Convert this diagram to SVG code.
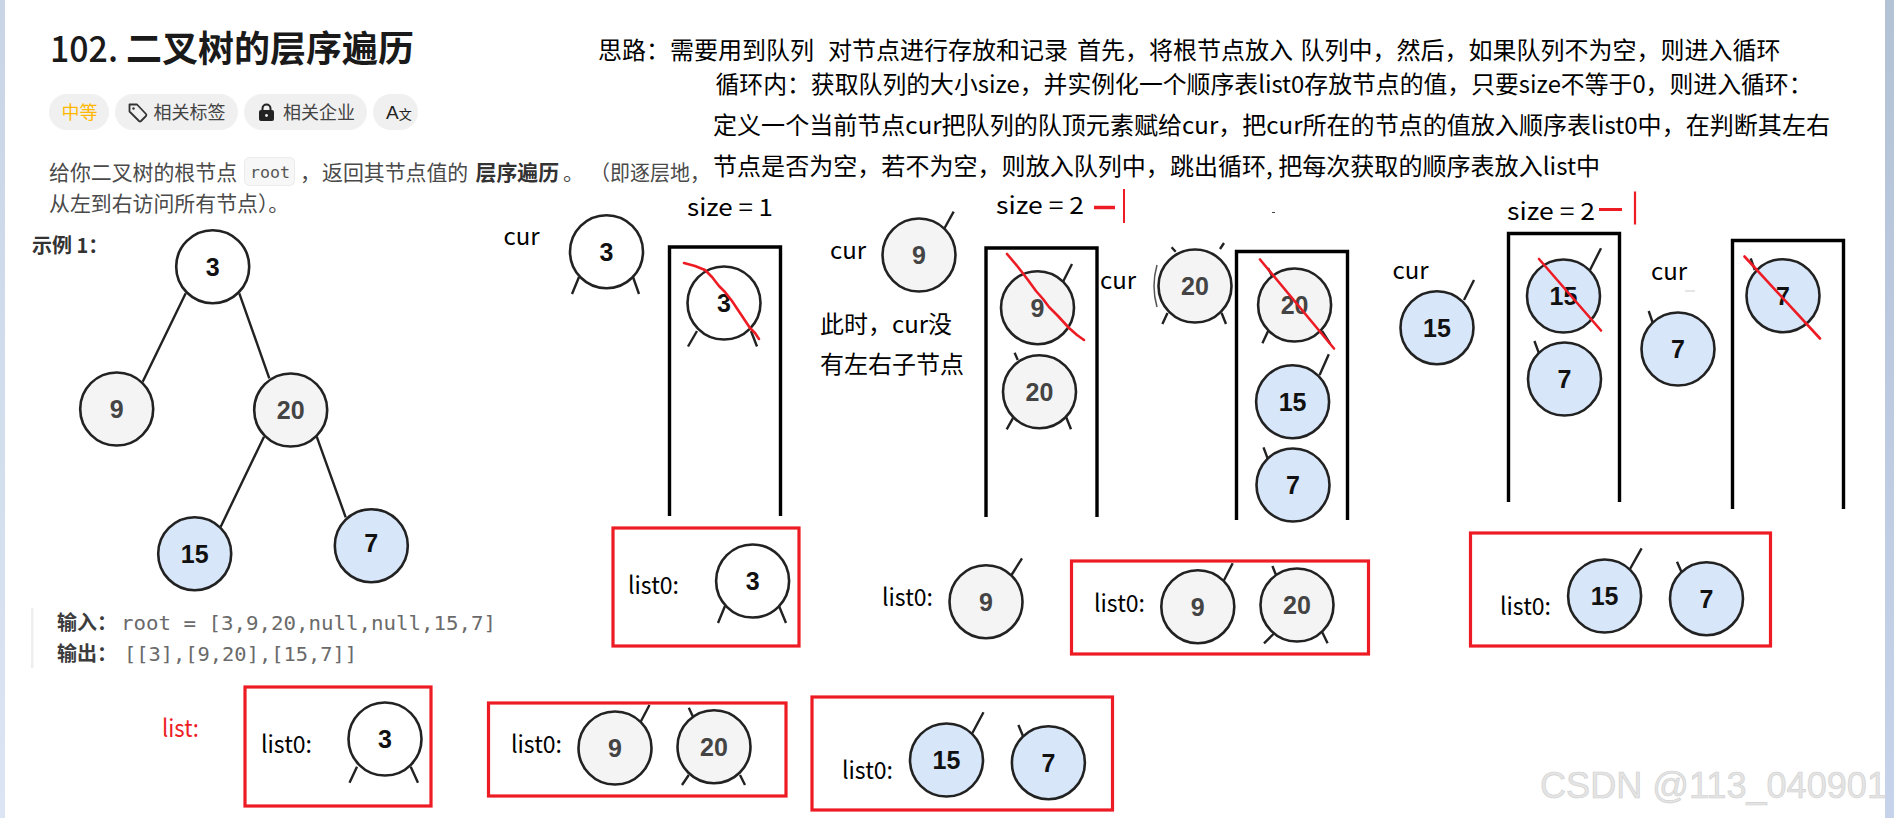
<svg xmlns="http://www.w3.org/2000/svg" width="1894" height="818" viewBox="0 0 1894 818">
<defs>
<linearGradient id="edgeR" x1="0" y1="0" x2="0" y2="1"><stop offset="0" stop-color="#b4c2d6"/><stop offset="1" stop-color="#c6d3ea"/></linearGradient>
<linearGradient id="edgeL" x1="0" y1="0" x2="0" y2="1"><stop offset="0" stop-color="#c9d5e6"/><stop offset="1" stop-color="#dbe5f3"/></linearGradient>
</defs>
<style>
text{font-family:"Noto Sans CJK SC","Noto Sans",sans-serif;fill:#000}
.h{font-size:24px}
.lab{font-size:24px}
.body{font-size:20.9px;fill:#4a4a4a}
.tag{font-size:18px;fill:#444}
.mono{font-family:"DejaVu Sans Mono","Liberation Mono",monospace;font-size:19px;fill:#6a6a6a}
.kw{font-size:20px;font-weight:700;fill:#3c3c3c}
.pill{fill:#f0f0f0}
.n{stroke:#222;stroke-width:2.6}
.w{fill:#fff}.g{fill:#f4f4f4}.b{fill:#d8e6f9}
.v{font-family:"Liberation Sans",Arial,sans-serif;font-size:25px;font-weight:700;text-anchor:middle;fill:#111}
.vg{fill:#444}
.e{stroke:#222;stroke-width:2.4;fill:none}
.box{fill:none;stroke:#000;stroke-width:3.4}
.rbox{fill:none;stroke:#ed1c24;stroke-width:3.2}
.red{fill:none;stroke:#ed1c24;stroke-width:2.6;stroke-linejoin:round;stroke-linecap:round}
</style>
<rect width="1894" height="818" fill="#fff"/>
<rect x="0" y="0" width="5" height="818" fill="url(#edgeL)"/>
<rect x="1885" y="0" width="9" height="818" fill="url(#edgeR)"/>

<g id="problem">
<text x="50" y="61.5" style="font-size:36px;font-weight:500;fill:#1a1a1a" textLength="68" lengthAdjust="spacingAndGlyphs">102.</text>
<text x="126" y="61.5" style="font-size:36px;font-weight:700;fill:#1a1a1a" textLength="288" lengthAdjust="spacingAndGlyphs">二叉树的层序遍历</text>
<rect class="pill" x="49" y="94" width="60" height="36" rx="18"/>
<text x="61.5" y="118.5" style="font-size:18px;fill:#ffb800">中等</text>
<rect class="pill" x="115" y="94" width="123" height="36" rx="18"/>
<path d="M129.500 104.500h7.500l9 9.500a1.500 1.500 0 0 1 0 2l-5 5a1.500 1.500 0 0 1-2 0l-9.500-9.500z" fill="none" stroke="#333" stroke-width="1.800" stroke-linejoin="round"/>
<circle cx="133.500" cy="108.500" r="1.200" fill="#333"/>
<text class="tag" x="153.500" y="118.500">相关标签</text>
<rect class="pill" x="244" y="94" width="123" height="36" rx="18"/>
<path d="M262.500 110.500v-2a4 4 0 0 1 8 0v2" fill="none" stroke="#222" stroke-width="2"/>
<rect x="259" y="110" width="15" height="11" rx="2" fill="#222"/>
<circle cx="266.500" cy="115.500" r="1.400" fill="#f0f0f0"/>
<text class="tag" x="283" y="118.500">相关企业</text>
<rect class="pill" x="373" y="94" width="45" height="36" rx="18"/>
<text x="386" y="118.500" style="font-size:19px;font-family:'Liberation Sans',sans-serif;fill:#222">A<tspan style="font-size:13px;font-family:'Noto Sans CJK SC',sans-serif;fill:#222">文</tspan></text>
<text class="body" x="49" y="180">给你二叉树的根节点</text>
<rect x="244.500" y="157.500" width="50" height="28" rx="5" fill="#f7f7f7" stroke="#ebebeb"/>
<text class="mono" x="250" y="177.500" textLength="40" lengthAdjust="spacingAndGlyphs" style="font-size:16px;fill:#555">root</text>
<text class="body" x="300" y="180">，</text>
<text class="body" x="322" y="180">返回其节点值的</text>
<text class="body" x="475.500" y="180" style="font-weight:700;fill:#333">层序遍历</text>
<text class="body" x="563" y="180">。</text>
<text class="body" x="590" y="180" textLength="120" lengthAdjust="spacingAndGlyphs">（即逐层地，</text>
<text class="body" x="49" y="211">从左到右访问所有节点）。</text>
<text x="32" y="253" style="font-size:20px;font-weight:700;fill:#333">示例 1：</text>
<rect x="31" y="608" width="2.500" height="60" fill="#eeeeee"/>
<text class="kw" x="57" y="630">输入：</text>
<text class="mono" x="121" y="630" textLength="375" lengthAdjust="spacingAndGlyphs">root = [3,9,20,null,null,15,7]</text>
<text class="kw" x="57" y="661">输出：</text>
<text class="mono" x="124" y="661" textLength="233" lengthAdjust="spacingAndGlyphs">[[3],[9,20],[15,7]]</text>
</g>

<g id="idea">
<text class="h" x="598" y="59">思路：需要用到队列</text>
<text class="h" x="828" y="59">对节点进行存放和记录</text>
<text class="h" x="1077" y="59">首先，将根节点放入</text>
<text class="h" x="1300.500" y="59">队列中，然后，如果队列不为空，则进入循环</text>
<text class="h" x="715.500" y="93" textLength="1097" lengthAdjust="spacingAndGlyphs">循环内：获取队列的大小size，并实例化一个顺序表list0存放节点的值，只要size不等于0，则进入循环：</text>
<text class="h" x="713" y="134" textLength="1117" lengthAdjust="spacingAndGlyphs">定义一个当前节点cur把队列的队顶元素赋给cur，把cur所在的节点的值放入顺序表list0中，在判断其左右</text>
<text class="h" x="713" y="175" textLength="887" lengthAdjust="spacingAndGlyphs">节点是否为空，若不为空，则放入队列中，跳出循环, 把每次获取的顺序表放入list中</text>
</g>

<g id="connectors">
<path class="e" d="M185.700 293.300L142.700 381.700M239.300 293.300L269.300 378.300M264 436.700L220.700 526.700M316.700 436.700L345.700 517.300"/>
</g>

<g id="tree-3" transform="translate(212.700 266.700)"><circle class="n w" r="36.500"/><text class="v" y="9">3</text></g>
<g id="tree-9" transform="translate(116.700 409)"><circle class="n g" r="36.500"/><text class="v vg" y="9">9</text></g>
<g id="tree-20" transform="translate(290.700 410)"><circle class="n g" r="36.500"/><text class="v vg" y="9">20</text></g>
<g id="tree-15" transform="translate(194.700 553.700)"><circle class="n b" r="36.500"/><text class="v" y="9">15</text></g>
<g id="tree-7" transform="translate(371.300 545.700)"><circle class="n b" r="36.500"/><text class="v" y="6">7</text></g>

<g id="step1">
<text class="lab" x="503.500" y="245">cur</text>
<path class="e" d="M579 277L572 294M633 277L639 294"/>
<g id="s1-cur" transform="translate(606.500 251.700)"><circle class="n w" r="36.500"/><text class="v" y="9">3</text></g>
<text class="lab" x="687" y="215.500" textLength="86" lengthAdjust="spacingAndGlyphs">size = 1</text>
<path class="box" d="M669.500 516V247H780.500V516"/>
<path class="e" d="M697 331L688 346.500M751 331L757 346.500"/>
<g id="s1-q3" transform="translate(724 303)"><circle class="n w" r="36.500"/><text class="v" y="9">3</text></g>
<path class="red" d="M684 263L695 266L705 270L712 277L719 286L725 292L732 301L738 310L744 319L750 328L755 333L759 339"/>
</g>

<g id="step2">
<text class="lab" x="830" y="259">cur</text>
<path class="e" d="M944.600 228L953.700 211.700"/>
<g id="s2-cur" transform="translate(919 255)"><circle class="n g" r="36.500"/><text class="v vg" y="9">9</text></g>
<text class="lab" x="820" y="333">此时，cur没</text>
<text class="lab" x="820" y="373">有左右子节点</text>
<text class="lab" x="996" y="214" textLength="88" lengthAdjust="spacingAndGlyphs">size = 2</text>
<path d="M1094 207.500H1115" stroke="#ed1c24" stroke-width="3.500" fill="none"/>
<path d="M1124 189V223" stroke="#ed1c24" stroke-width="2" fill="none"/>
<path class="box" d="M986 517V248H1097V517"/>
<path class="e" d="M1063 281.700L1072 264M1017.800 360L1014.600 352.700M1013.800 416.700L1006.700 429.300M1066 416.700L1071 429.300"/>
<g id="s2-q9" transform="translate(1037.500 307.700)"><circle class="n g" r="36.500"/><text class="v vg" y="9">9</text></g>
<g id="s2-q20" transform="translate(1039.500 391.700)"><circle class="n g" r="36.500"/><text class="v vg" y="9">20</text></g>
<path class="red" d="M1007 254L1018 267L1028 280L1036 291L1043 299L1049 307L1058 316L1069 328L1077 335L1084 340"/>
</g>

<g id="step3">
<text class="lab" x="1100" y="289">cur</text>
<path class="e" d="M1175.700 251.700L1171.600 247.300M1220 249L1224 243M1167.500 313L1162.400 324M1221.600 313L1226 324"/>
<path d="M1157 265Q1151 286 1157 307" fill="none" stroke="#555" stroke-width="1.500"/>
<g id="s3-cur" transform="translate(1195 286)"><circle class="n g" r="36.500"/><text class="v vg" y="9">20</text></g>
<path d="M1272 212.500H1275" stroke="#444" stroke-width="1" fill="none"/>
<path class="box" d="M1236.500 520V251.500H1347.500V520"/>
<path class="e" d="M1268.600 330L1262.400 343.300M1322 331L1330 343.300M1272 276L1268 268"/>
<g id="s3-q20" transform="translate(1294.600 305)"><circle class="n g" r="36.500"/><text class="v vg" y="9">20</text></g>
<path class="e" d="M1319.600 375L1328.800 354.300M1267.600 458.300L1263.500 447.300"/>
<g id="s3-q15" transform="translate(1292.600 401.700)"><circle class="n b" r="36.500"/><text class="v" y="9">15</text></g>
<g id="s3-q7" transform="translate(1293 485)"><circle class="n b" r="36.500"/><text class="v" y="9">7</text></g>
<path class="red" d="M1260 259.500L1334 348.500"/>
</g>

<g id="step4">
<text class="lab" x="1392.500" y="279">cur</text>
<path class="e" d="M1464 300L1474 280"/>
<g id="s4-cur" transform="translate(1437 327.700)"><circle class="n b" r="36.500"/><text class="v" y="9">15</text></g>
<text class="lab" x="1507" y="219.500" textLength="88" lengthAdjust="spacingAndGlyphs">size = 2</text>
<path d="M1599 209.500H1622" stroke="#ed1c24" stroke-width="3" fill="none"/>
<path d="M1635 191.500V224.500" stroke="#ed1c24" stroke-width="2.200" fill="none"/>
<path class="box" d="M1508.500 502V233.500H1619.500V502"/>
<path class="e" d="M1590 270L1601 248.300M1539 353.300L1534.400 341"/>
<g id="s4-q15" transform="translate(1563.500 296)"><circle class="n b" r="36.500"/><text class="v" y="9">15</text></g>
<g id="s4-q7" transform="translate(1564.500 379)"><circle class="n b" r="36.500"/><text class="v" y="9">7</text></g>
<path class="red" d="M1539 259L1601 330.500"/>
</g>

<g id="step5">
<text class="lab" x="1651" y="279.500">cur</text>
<path class="e" d="M1652.800 323L1648.700 311"/>
<g id="s5-cur" transform="translate(1678 349)"><circle class="n b" r="36.500"/><text class="v" y="9">7</text></g>
<path d="M1685 291H1695" stroke="#ccc" stroke-width="1" fill="none"/>
<path class="box" d="M1732.500 509V240.500H1843.500V509"/>
<path class="e" d="M1754.800 270L1750.700 258.300"/>
<g id="s5-q7" transform="translate(1783 295.700)"><circle class="n b" r="36.500"/><text class="v" y="9">7</text></g>
<path class="red" d="M1744.500 256.500L1820 338.500"/>
</g>

<g id="list0-a">
<rect class="rbox" x="613" y="528" width="186" height="118"/>
<text class="lab" x="628" y="594" textLength="51" lengthAdjust="spacingAndGlyphs">list0:</text>
<path class="e" d="M725 606L718 623M779 606L786 623"/>
<g transform="translate(752.600 581)"><circle class="n w" r="36.500"/><text class="v" y="9">3</text></g>
</g>
<g id="list0-b">
<text class="lab" x="882" y="606" textLength="51" lengthAdjust="spacingAndGlyphs">list0:</text>
<path class="e" d="M1011.500 575L1022 558.300"/>
<g transform="translate(986 601.700)"><circle class="n g" r="36.500"/><text class="v vg" y="9">9</text></g>
</g>
<g id="list0-c">
<rect class="rbox" x="1071.500" y="561" width="297" height="93"/>
<text class="lab" x="1094" y="611.500" textLength="51" lengthAdjust="spacingAndGlyphs">list0:</text>
<path class="e" d="M1223.600 581L1232.700 563.300M1276 575L1272.400 566M1274.500 633L1264 643.300M1322 631.700L1327.600 643.300"/>
<g transform="translate(1197.800 606.700)"><circle class="n g" r="36.500"/><text class="v vg" y="9">9</text></g>
<g transform="translate(1297 605)"><circle class="n g" r="36.500"/><text class="v vg" y="9">20</text></g>
</g>
<g id="list0-d">
<rect class="rbox" x="1470.500" y="533" width="300" height="113"/>
<text class="lab" x="1500" y="614.500" textLength="51" lengthAdjust="spacingAndGlyphs">list0:</text>
<path class="e" d="M1630 569L1641.600 548.300M1681.400 571.700L1677 561.700"/>
<g transform="translate(1604.600 596)"><circle class="n b" r="36.500"/><text class="v" y="9">15</text></g>
<g transform="translate(1706.500 598.700)"><circle class="n b" r="36.500"/><text class="v" y="9">7</text></g>
</g>

<g id="list">
<text class="lab" x="162" y="737" style="fill:#ed1c24" textLength="37" lengthAdjust="spacingAndGlyphs">list:</text>
</g>
<g id="list-1">
<rect class="rbox" x="245" y="687" width="186" height="119"/>
<text class="lab" x="261" y="753" textLength="51" lengthAdjust="spacingAndGlyphs">list0:</text>
<path class="e" d="M357 766.700L349.500 782.700M410.700 766.700L418 782.700"/>
<g transform="translate(385 739)"><circle class="n w" r="36.500"/><text class="v" y="9">3</text></g>
</g>
<g id="list-2">
<rect class="rbox" x="488.500" y="703" width="297.500" height="93"/>
<text class="lab" x="511" y="753" textLength="51" lengthAdjust="spacingAndGlyphs">list0:</text>
<path class="e" d="M640 723L649.500 705M693 716.700L688.800 707.700M688.800 775L682 785M740 775L745 785"/>
<g transform="translate(615 748)"><circle class="n g" r="36.500"/><text class="v vg" y="9">9</text></g>
<g transform="translate(714 746.700)"><circle class="n g" r="36.500"/><text class="v vg" y="9">20</text></g>
</g>
<g id="list-3">
<rect class="rbox" x="812" y="697" width="300.500" height="113"/>
<text class="lab" x="842" y="778.500" textLength="51" lengthAdjust="spacingAndGlyphs">list0:</text>
<path class="e" d="M972.400 733L983.500 712.300M1023.300 736.700L1018.400 725"/>
<g transform="translate(946.500 760)"><circle class="n b" r="36.500"/><text class="v" y="9">15</text></g>
<g transform="translate(1048.400 762.700)"><circle class="n b" r="36.500"/><text class="v" y="9">7</text></g>
</g>

<text id="watermark" x="1540" y="798" textLength="347" lengthAdjust="spacingAndGlyphs" style="font-family:'Liberation Sans',Arial,sans-serif;font-size:36px;fill:#e4e4e4;stroke:#d0d0d0;stroke-width:.6">CSDN @113_040901</text>
</svg>
